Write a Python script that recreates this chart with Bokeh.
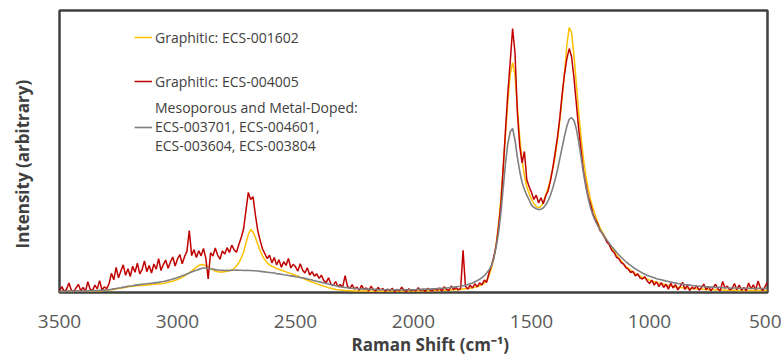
import numpy as np
from bokeh.plotting import figure
from bokeh.models import Range1d, FixedTicker, Legend, LegendItem, ColumnDataSource, Title
from bokeh.embed import file_html
from bokeh.resources import INLINE

# Raman shift sample positions (cm^-1), 3500 down to 500 in 10 cm^-1 steps
raman_shift = np.arange(3500, 499, -10)

graphitic_001602 = [
    0.3, 0.4, 0.3, 0.5, 0.4, 0.3, 0.5, 0.4, 0.4, 0.5,
    0.5, 0.4, 0.6, 0.5, 0.5, 0.6, 0.7, 0.6, 0.7, 0.8,
    0.8, 0.9, 1.0, 1.1, 1.2, 1.4, 1.5, 1.7, 1.8, 2.0,
    2.1, 2.2, 2.3, 2.4, 2.5, 2.5, 2.6, 2.7, 2.7, 2.8,
    2.9, 3.0, 3.0, 3.1, 3.3, 3.4, 3.6, 3.8, 4.0, 4.3,
    4.6, 5.0, 5.4, 5.9, 6.4, 7.0, 7.6, 8.3, 9.0, 9.6,
    9.9, 9.8, 9.5, 9.0, 8.5, 8.0, 7.6, 7.4, 7.3, 7.3,
    7.4, 7.5, 7.7, 8.0, 8.6, 9.4, 10.6, 12.2, 14.3, 17.5,
    20.5, 22.3, 21.5, 19.5, 17.0, 15.0, 13.0, 11.6, 10.5, 9.8,
    9.3, 8.9, 8.5, 8.2, 7.9, 7.6, 7.3, 7.0, 6.7, 6.4,
    6.1, 5.8, 5.4, 5.1, 4.7, 4.4, 4.0, 3.7, 3.4, 3.1,
    2.8, 2.5, 2.2, 2.0, 1.7, 1.5, 1.3, 1.1, 1.0, 0.9,
    0.8, 0.7, 0.7, 0.6, 0.6, 0.5, 0.5, 0.5, 0.5, 0.5,
    0.5, 0.5, 0.4, 0.4, 0.5, 0.5, 0.4, 0.4, 0.5, 0.5,
    0.5, 0.5, 0.5, 0.5, 0.5, 0.5, 0.5, 0.5, 0.5, 0.5,
    0.5, 0.5, 0.5, 0.6, 0.6, 0.6, 0.6, 0.6, 0.7, 0.7,
    0.7, 0.7, 0.8, 0.8, 0.8, 0.9, 0.9, 1.0, 1.0, 1.1,
    1.1, 1.2, 1.3, 1.4, 1.5, 1.7, 1.9, 2.1, 2.4, 2.8,
    3.3, 4.3, 6.0, 8.5, 12.0, 17.0, 24.0, 33.0, 44.0, 56.0,
    68.0, 77.5, 81.5, 77.0, 66.0, 55.0, 47.0, 41.5, 37.5, 35.0,
    33.0, 31.5, 30.5, 30.0, 30.5, 32.0, 34.5, 37.0, 40.0, 44.0,
    48.0, 54.0, 61.0, 69.0, 78.0, 88.0, 94.0, 92.0, 84.0, 74.0,
    64.0, 55.0, 47.5, 41.5, 37.0, 33.0, 30.0, 27.5, 25.0, 23.0,
    21.5, 20.0, 18.5, 17.0, 15.7, 14.5, 13.3, 12.2, 11.2, 10.2,
    9.3, 8.6, 7.9, 7.3, 6.7, 6.2, 5.8, 5.4, 5.0, 4.7,
    4.4, 4.1, 3.8, 3.5, 3.3, 3.1, 2.9, 2.7, 2.5, 2.3,
    2.2, 2.0, 1.9, 1.8, 1.7, 1.6, 1.5, 1.4, 1.4, 1.3,
    1.3, 1.2, 1.2, 1.1, 1.1, 1.0, 1.0, 1.0, 0.9, 0.9,
    0.9, 0.9, 0.8, 0.8, 0.8, 0.8, 0.8, 0.8, 0.7, 0.7,
    0.7, 0.7, 0.7, 0.7, 0.7, 0.7, 0.7, 0.7, 0.7, 0.7,
    0.7,
]

graphitic_004005 = [
    0.5, 2.1, 0.3, 1.2, 3.4, 0.8, 0.2, 1.6, 2.9, 0.6,
    1.8, 0.4, 3.8, 1.1, 0.7, 2.6, 1.3, 4.2, 0.9, 2.0,
    1.4, 3.1, 6.8, 4.5, 8.9, 5.2, 7.6, 9.8, 6.1, 8.4,
    5.7, 9.3, 7.2, 10.4, 6.6, 8.1, 11.2, 7.4, 9.6, 6.9,
    10.1, 8.3, 12.0, 7.8, 9.9, 11.5, 8.6, 10.8, 12.6, 9.4,
    11.9, 13.4, 10.2, 12.8, 14.6, 22.0, 13.1, 15.2, 12.4, 14.8,
    13.0, 15.6, 12.2, 4.8, 14.1, 12.9, 15.8, 13.3, 11.8, 14.7,
    13.6, 15.9, 14.2, 16.8, 15.1, 14.3, 17.0, 19.5, 22.5, 29.0,
    35.5, 33.0, 34.0, 27.5, 22.0, 18.5, 15.5, 13.8, 12.0, 13.2,
    10.5, 12.4, 9.8, 11.6, 8.9, 10.9, 9.6, 12.1, 8.7, 10.0,
    9.1, 7.6, 10.2, 8.0, 6.9, 8.8, 6.2, 7.4, 5.8, 6.6,
    5.0, 6.1, 4.2, 3.5, 5.2, 3.0, 2.4, 3.9, 2.1, 2.8,
    1.9, 6.0, 2.3, 1.4, 2.8, 1.2, 1.9, 0.8, 2.5, 1.1,
    1.6, 0.6, 2.2, 1.0, 0.5, 1.8, 0.9, 1.4, 0.4, 1.2,
    0.7, 1.5, 0.3, 1.1, 0.6, 1.9, 0.8, 0.4, 1.3, 0.6,
    1.0, 0.5, 1.7, 0.7, 1.2, 0.4, 1.5, 0.9, 0.6, 1.4,
    0.8, 1.6, 0.5, 2.0, 1.1, 0.7, 2.3, 1.0, 1.8, 0.9,
    1.5, 15.0, 2.2, 1.2, 2.6, 1.6, 3.1, 2.0, 3.4, 2.7,
    4.4, 3.6, 7.0, 9.5, 12.5, 16.5, 23.0, 31.0, 44.0, 58.0,
    71.0, 82.0, 93.6, 85.0, 64.0, 52.0, 46.0, 50.0, 40.0, 37.5,
    35.5, 33.0, 34.5, 31.8, 33.6, 31.5, 34.2, 36.0, 39.5, 44.0,
    49.5, 55.0, 62.0, 70.5, 77.5, 83.0, 86.5, 83.5, 76.0, 67.0,
    58.0, 50.5, 43.0, 38.5, 34.0, 31.5, 28.0, 26.0, 24.5, 22.0,
    21.0, 19.5, 17.8, 16.9, 15.0, 14.2, 12.5, 12.0, 10.6, 10.1,
    8.8, 8.3, 7.1, 7.5, 5.9, 6.6, 5.2, 4.8, 5.6, 4.1,
    3.2, 4.4, 2.6, 3.8, 2.1, 3.5, 1.8, 2.9, 1.2, 3.3,
    1.6, 2.8, 0.9, 2.2, 3.6, 1.1, 2.5, 0.7, 1.9, 1.3,
    2.4, 0.8, 1.7, 3.0, 1.0, 2.1, 0.6, 1.8, 2.9, 1.2,
    0.7, 3.9, 1.5, 2.3, 0.9, 1.4, 3.2, 1.0, 2.6, 0.8,
    1.8, 0.6, 3.4, 1.3, 2.7, 0.9, 4.1, 1.6, 0.7, 2.2,
    3.8,
]

mesoporous_metal_doped = [
    0.4, 0.5, 0.4, 0.5, 0.6, 0.5, 0.4, 0.5, 0.6, 0.5,
    0.5, 0.6, 0.5, 0.6, 0.7, 0.6, 0.7, 0.8, 0.8, 0.9,
    0.9, 1.0, 1.1, 1.3, 1.4, 1.6, 1.7, 1.9, 2.0, 2.2,
    2.3, 2.4, 2.6, 2.7, 2.8, 2.9, 3.0, 3.1, 3.2, 3.3,
    3.4, 3.5, 3.6, 3.8, 3.9, 4.1, 4.3, 4.5, 4.8, 5.0,
    5.3, 5.6, 5.9, 6.2, 6.6, 6.9, 7.3, 7.6, 7.9, 8.2,
    8.5, 8.7, 8.7, 8.6, 8.4, 8.3, 8.1, 8.0, 7.9, 7.9,
    7.8, 7.9, 7.8, 7.9, 7.9, 8.0, 7.9, 7.9, 7.8, 7.9,
    7.8, 7.8, 7.7, 7.7, 7.6, 7.5, 7.4, 7.3, 7.2, 7.1,
    7.0, 6.9, 6.7, 6.6, 6.5, 6.3, 6.2, 6.0, 5.9, 5.8,
    5.6, 5.5, 5.3, 5.2, 5.0, 4.8, 4.6, 4.4, 4.2, 4.0,
    3.8, 3.6, 3.4, 3.2, 3.0, 2.8, 2.6, 2.4, 2.2, 2.0,
    1.9, 1.8, 1.7, 1.6, 1.5, 1.4, 1.4, 1.3, 1.3, 1.2,
    1.2, 1.2, 1.1, 1.1, 1.1, 1.0, 1.0, 1.0, 1.0, 1.0,
    1.0, 1.0, 0.9, 1.0, 1.0, 0.9, 1.0, 1.0, 1.0, 1.0,
    1.0, 1.0, 1.1, 1.1, 1.1, 1.2, 1.2, 1.2, 1.3, 1.3,
    1.4, 1.4, 1.5, 1.5, 1.6, 1.7, 1.8, 1.9, 2.0, 2.1,
    2.2, 2.4, 2.6, 2.8, 3.1, 3.4, 3.8, 4.2, 4.7, 5.3,
    6.0, 6.9, 8.0, 9.4, 12.0, 16.0, 21.0, 28.0, 37.0, 46.0,
    53.0, 57.0, 58.2, 54.0, 48.0, 43.0, 39.0, 36.5, 34.5, 32.8,
    31.0, 30.2, 29.7, 29.4, 29.5, 30.0, 31.0, 32.5, 34.5, 37.0,
    40.0, 43.5, 47.5, 51.5, 55.5, 59.0, 61.5, 62.0, 61.0, 58.0,
    53.5, 48.0, 42.5, 37.5, 33.5, 30.0, 27.5, 25.5, 23.8, 22.3,
    21.0, 19.7, 18.5, 17.4, 16.3, 15.3, 14.3, 13.4, 12.5, 11.7,
    10.9, 10.2, 9.6, 9.0, 8.4, 7.9, 7.4, 6.9, 6.5, 6.1,
    5.8, 5.5, 5.2, 4.9, 4.7, 4.5, 4.3, 4.1, 3.9, 3.7,
    3.5, 3.4, 3.2, 3.1, 3.0, 2.8, 2.7, 2.6, 2.5, 2.4,
    2.3, 2.2, 2.2, 2.1, 2.0, 2.0, 1.9, 1.9, 1.8, 1.8,
    1.8, 1.7, 1.7, 1.7, 1.6, 1.6, 1.6, 1.6, 1.5, 1.5,
    1.5, 1.5, 1.5, 1.4, 1.4, 1.4, 1.5, 1.4, 1.4, 1.4,
    1.4,
]

x_ticks = [3500, 3000, 2500, 2000, 1500, 1000, 500]
series_labels = [
    "Graphitic: ECS-001602",
    "Graphitic: ECS-004005",
    "Mesoporous and Metal-Doped:\nECS-003701, ECS-004601,\nECS-003604, ECS-003804",
]
series_colors = ["#FFC000", "#C00000", "#7F7F7F"]
x_title = "Raman Shift (cm⁻¹)"
y_title = "Intensity (arbitrary)"

FONT = "Open Sans"

p = figure(
    width=781, height=355,
    output_backend="svg", toolbar_location=None,
    x_range=Range1d(3500, 500), y_range=Range1d(0, 100),
    min_border_left=59, min_border_right=14, min_border_top=10, min_border_bottom=63,
)
p.background_fill_color = "white"
p.border_fill_color = "white"
p.outline_line_color = "#404040"
p.outline_line_width = 2.5
p.grid.visible = False

src = ColumnDataSource(dict(
    x=raman_shift,
    y1=graphitic_001602,
    y2=graphitic_004005,
    y3=mesoporous_metal_doped,
))
r1 = p.line("x", "y1", source=src, line_color=series_colors[0], line_width=1.5)
r2 = p.line("x", "y2", source=src, line_color=series_colors[1], line_width=1.5)
r3 = p.line("x", "y3", source=src, line_color=series_colors[2], line_width=1.6)

# x axis (tick labels only)
xa = p.xaxis[0]
xa.ticker = FixedTicker(ticks=x_ticks)
xa.axis_line_color = None
xa.major_tick_line_color = None
xa.minor_tick_line_color = None
xa.major_label_text_font = FONT
xa.major_label_text_font_size = "19px"
xa.major_label_text_color = "#595959"
xa.major_label_standoff = 16

# y axis: no ticks, no labels; a blank 1px label reserves a gap next to the frame
ya = p.yaxis[0]
ya.ticker = FixedTicker(ticks=[])
ya.axis_line_color = None
ya.major_tick_line_color = None
ya.minor_tick_line_color = None
ya.major_tick_out = 0
ya.minor_tick_out = 0
ya.major_tick_in = 0
ya.minor_tick_in = 0
ya.major_label_standoff = 0
ya.axis_label = " "
ya.axis_label_text_font_size = "1px"
ya.axis_label_text_alpha = 0
ya.axis_label_standoff = 14

p.add_layout(Title(
    text=x_title, align="left", offset=292, standoff=0,
    text_font=FONT, text_font_style="bold", text_font_size="17px",
    text_color="#404040",
), "below")

# y title placed outside the (empty) y axis
p.add_layout(Title(
    text=y_title, align="left", offset=44, standoff=16,
    text_font=FONT, text_font_style="bold", text_font_size="17px",
    text_color="#404040",
), "left")

legend_common = dict(
    orientation="vertical",
    background_fill_alpha=0,
    border_line_alpha=0,
    padding=0,
    margin=0,
    spacing=0,
    glyph_width=18,
    glyph_height=20,
    label_height=44,
    label_standoff=3,
    label_text_font=FONT,
    label_text_font_size="14px",
    label_text_color="#404040",
    label_text_line_height=1.0,
)
legend_graphitic = Legend(
    items=[
        LegendItem(label=series_labels[0], renderers=[r1]),
        LegendItem(label=series_labels[1], renderers=[r2]),
    ],
    location=(75, 189),
    **legend_common,
)
legend_meso = Legend(
    items=[LegendItem(label=series_labels[2], renderers=[r3])],
    location=(75, 137),
    **legend_common,
)
p.add_layout(legend_graphitic)
p.add_layout(legend_meso)

open("out.html", "w").write(file_html(p, INLINE))
